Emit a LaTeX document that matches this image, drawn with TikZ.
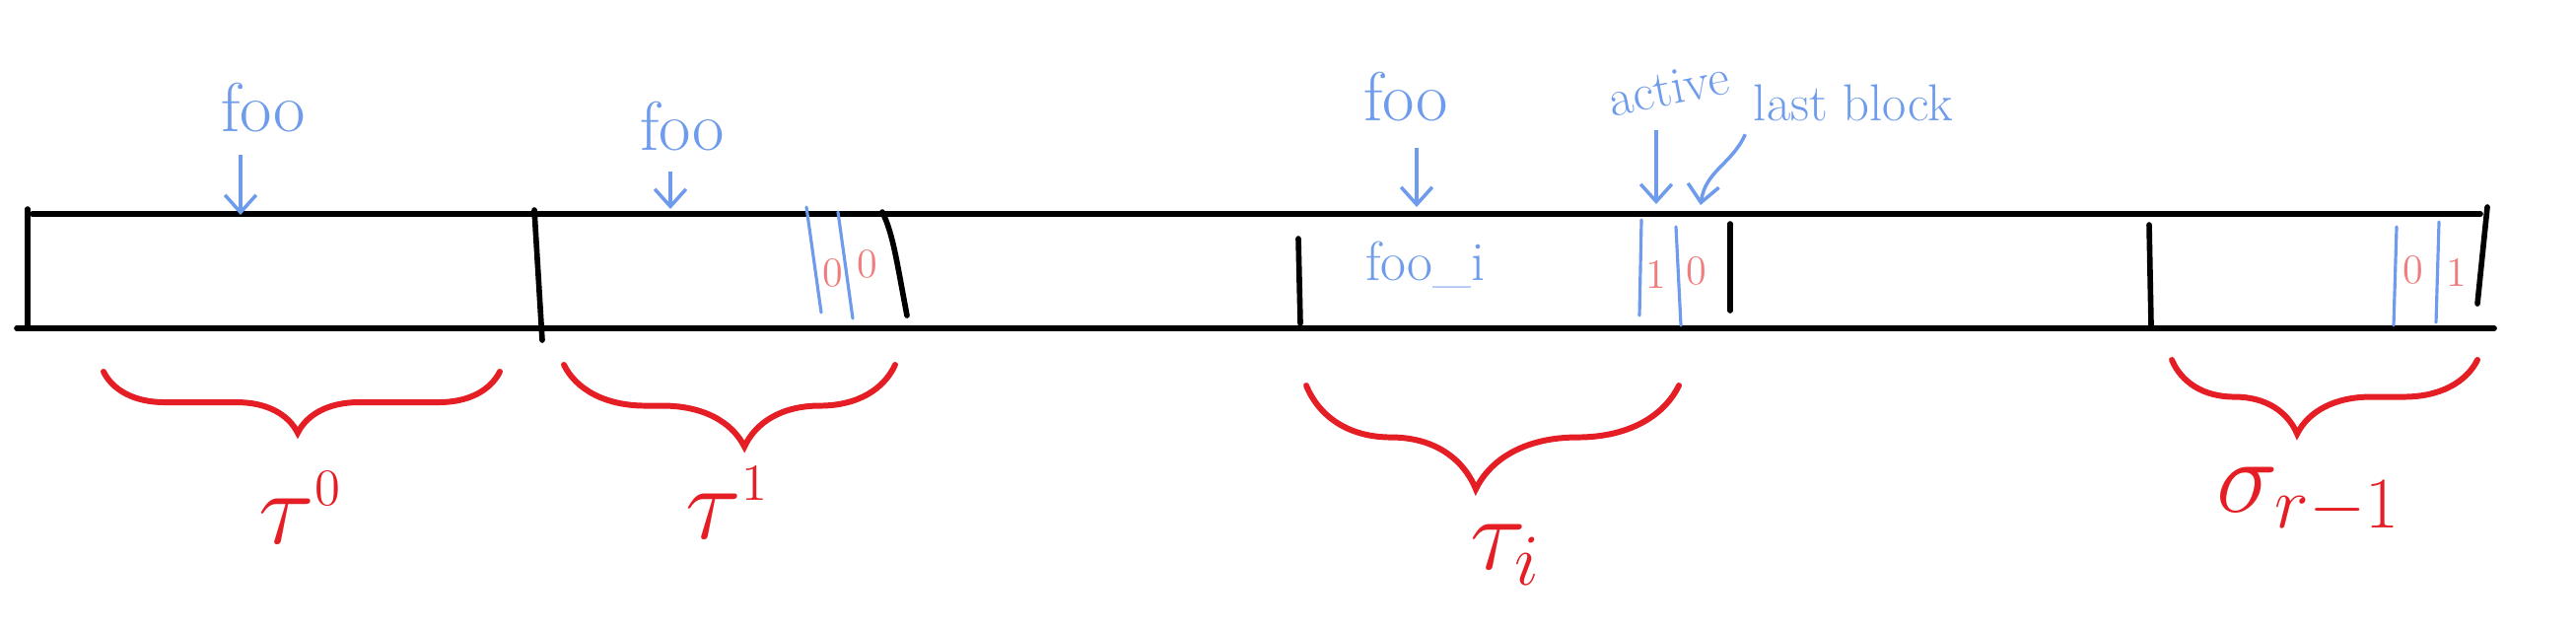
\RequirePackage{fix-cm}
\documentclass[tikz,border=0pt]{standalone}
\usetikzlibrary{arrows.meta, decorations.pathreplacing}

\definecolor{penblue}{RGB}{110,155,235}
\definecolor{penred}{RGB}{228,30,36}
\definecolor{bitred}{RGB}{240,125,125}

\begin{document}
\begin{tikzpicture}[
    x=0.01cm, y=-0.01cm,
    every node/.style={inner sep=1pt},
    tape/.style={line width=1.6pt, line cap=round},
    split/.style={penblue, line width=0.9pt, line cap=round},
    note/.style={penblue, font=\fontsize{20}{22}\selectfont},
    smallnote/.style={penblue, font=\fontsize{15}{17}\selectfont},
    arrow/.style={-{Straight Barb[length=5pt, width=9pt]}, penblue, line width=1pt},
    bit/.style={bitred, font=\fontsize{12}{14}\selectfont},
    chunk/.style 2 args={decorate, decoration={brace, mirror, amplitude=#1, aspect=#2},
        penred, line width=1.7pt, line cap=round},
    chunklabel/.style={penred, font=\fontsize{30}{32}\selectfont}
]
    \useasboundingbox (0,0) rectangle (2613,638);

    % the tape
    \draw[tape] (33,217) -- (2516,217);
    \draw[tape] (17,333) -- (2530,333);
    \foreach \xa/\ya/\xb/\yb in {28/212/28/330, 542/213/550/345, 1317/242/1319/328,
                                 1755/227/1755/315, 2180/228/2182/330, 2523/210/2513/308}
        \draw[tape] (\xa,\ya) -- (\xb,\yb);
    \draw[tape] (895,215) .. controls (906,238) and (909,262) .. (920,320);

    % block boundaries and bits
    \foreach \xa/\ya/\xb/\yb in {818/210/833/317, 850/215/865/323, 1665/223/1663/320,
                                 1700/230/1705/330, 2431/230/2428/330, 2474/225/2471/327}
        \draw[split] (\xa,\ya) -- (\xb,\yb);
    \node[bit] (bitA) at (845,277) {0};
    \node[bit] (bitB) at (880,268) {0};
    \node[bit] (bitC) at (1680,278) {1};
    \node[bit] (bitD) at (1721,275) {0};
    \node[bit] (bitE) at (2448,274) {0};
    \node[bit] (bitF) at (2492,276) {1};

    \node[note, font=\fontsize{16}{18}\selectfont] (fooi) at (1446,268) {foo\_i};

    % pointers from above
    \node[note, anchor=base] (foo0) at (267,133) {foo};
    \node[note, anchor=base] (foo1) at (692,152) {foo};
    \node[note, anchor=base] (foo2) at (1426,122) {foo};
    \node[smallnote, rotate=11] (active) at (1693,90) {active};
    \node[smallnote, anchor=base] (lastblk) at (1880,122) {last block};
    \coordinate (foo0tip) at (244,218);
    \coordinate (foo1tip) at (680,212);
    \coordinate (foo2tip) at (1437,210);
    \coordinate (acttip) at (1680,207);
    \coordinate (lasttip) at (1725,208);

    \draw[arrow, shorten <=5.5pt] (foo0.south -| foo0tip) -- (foo0tip);
    \draw[arrow, shorten <=5pt] (foo1.south -| foo1tip) -- (foo1tip);
    \draw[arrow, shorten <=6.5pt] (foo2.south -| foo2tip) -- (foo2tip);
    \draw[arrow, shorten <=6pt] (active.south -| acttip) -- (acttip);
    \draw[arrow, shorten <=3pt] (lastblk.south west) .. controls +(-18,40) and +(5,-35) .. (lasttip);

    % chunks
    \draw[chunk={0.62cm}{0.49}] (105,377) -- (507,377);
    \draw[chunk={0.83cm}{0.545}] (572,370) -- (908,370);
    \draw[chunk={1.05cm}{0.455}] (1325,391) -- (1703,391);
    \draw[chunk={0.75cm}{0.41}] (2203,365) -- (2513,365);

    \node[chunklabel] (tau0) at (305,515) {$\tau^{\scriptscriptstyle 0}$};
    \node[chunklabel] (tau1) at (738,510) {$\tau^{\scriptscriptstyle 1}$};
    \node[chunklabel] (taui) at (1527,563) {$\tau_i$};
    \node[chunklabel] (sigma) at (2342,508) {$\sigma_{r-1}$};
\end{tikzpicture}
\end{document}
